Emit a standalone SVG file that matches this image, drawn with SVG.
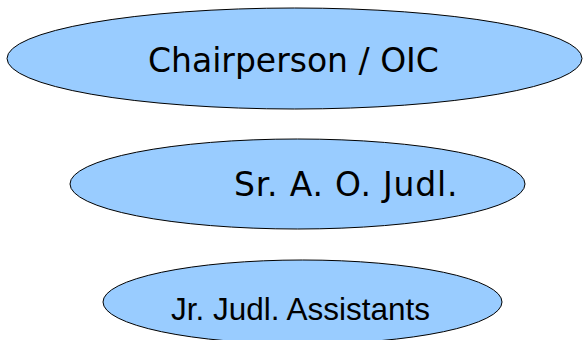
<svg xmlns="http://www.w3.org/2000/svg" width="583" height="340" viewBox="0 0 583 340">
<style>
.n{fill:#99ccff;stroke:#000;stroke-width:1}
.t{fill:#000}
.d{font-family:"DejaVu Sans",Verdana,sans-serif;font-size:33px}
.a{font-family:"Liberation Sans",Arial,sans-serif;font-size:31.5px}
</style>
<rect width="583" height="340" fill="#fff"/>
<g id="connectors"></g>
<g id="chairperson">
<ellipse class="n" cx="294.5" cy="58.5" rx="287.5" ry="50.5"/>
<text class="t d" x="148" y="72">Chairperson / OIC</text>
</g>
<g id="sr-ao-judl">
<ellipse class="n" cx="297.5" cy="184" rx="227.5" ry="45"/>
<text class="t d" x="234" y="196" letter-spacing="0.8">Sr. A. O. Judl.</text>
</g>
<g id="jr-judl-assistants">
<ellipse class="n" cx="302.5" cy="302" rx="199.5" ry="42"/>
<text class="t a" x="171" y="320">Jr. Judl. Assistants</text>
</g>
</svg>
